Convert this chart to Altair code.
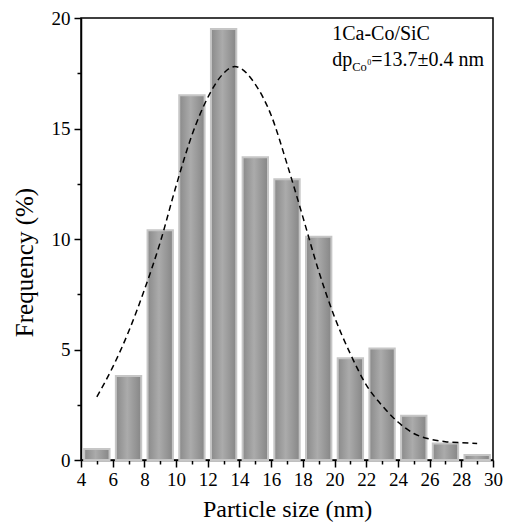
import altair as alt
import pandas as pd

# Histogram bins (nm) and frequencies (%)
bin_start = [4, 6, 8, 10, 12, 14, 16, 18, 20, 22, 24, 26, 28]
bin_end = [6, 8, 10, 12, 14, 16, 18, 20, 22, 24, 26, 28, 30]
frequency = [0.5, 3.8, 10.4, 16.5, 19.5, 13.7, 12.7, 10.1, 4.6, 5.05, 2.0, 0.75, 0.23]

# Fitted distribution curve
fit_x = [5, 6, 7, 8, 9, 10, 11, 12, 13, 13.7, 14, 15, 16, 17, 18, 19, 20, 21, 22, 23, 24, 25, 26, 27, 28, 29]
fit_y = [2.86, 4.2, 5.8, 7.7, 9.85, 12.4, 14.7, 16.4, 17.5, 17.8, 17.75, 17.0, 15.6, 13.4, 11.0,
         8.55, 6.47, 4.8, 3.4, 2.46, 1.72, 1.2, 0.95, 0.83, 0.78, 0.75]

# Sample label and mean size
label_sample = "1Ca-Co/SiC"
label_parts = ["dp", "Co", "0", "=13.7\u00b10.4 nm"]

FONT = "Liberation Serif"
GAP = 0.2

bars = pd.DataFrame({
    "x0": [s + GAP for s in bin_start],
    "x1": [e - GAP for e in bin_end],
    "f": frequency,
})
fit = pd.DataFrame({"x": fit_x, "y": fit_y})

x_scale = alt.Scale(domain=[4, 30], nice=False, zero=False)
y_scale = alt.Scale(domain=[0, 20], nice=False)

x_axis = alt.Axis(
    values=list(range(4, 31)),
    labelExpr="datum.value % 2 === 0 ? datum.label : ''",
    tickSize={"condition": {"test": "datum.value % 2 === 0", "value": 7}, "value": 4},
    title="Particle size (nm)",
    grid=False, labelOverlap=False, labelFlush=False,
    labelPadding=3, titlePadding=8,
)
y_axis = alt.Axis(
    values=[0, 2.5, 5, 7.5, 10, 12.5, 15, 17.5, 20],
    labelExpr="datum.value % 5 === 0 ? datum.label : ''",
    tickSize={"condition": {"test": "datum.value % 5 === 0", "value": 7}, "value": 4},
    title="Frequency (%)", titleY=244, titleFontSize=25,
    grid=False, labelOverlap=False, labelPadding=4, titlePadding=14,
)


def xq(field):
    return alt.X(field, type="quantitative", scale=x_scale, axis=x_axis)


def yq(field):
    return alt.Y(field, type="quantitative", scale=y_scale, axis=y_axis)


bar_fill = alt.LinearGradient(
    gradient="linear",
    stops=[
        alt.GradientStop(color="#8a8a8a", offset=0),
        alt.GradientStop(color="#ababab", offset=0.45),
        alt.GradientStop(color="#868686", offset=1),
    ],
    x1=0, x2=1, y1=0, y2=0,
)

hist = alt.Chart(bars).mark_rect(
    fill=bar_fill, stroke="#c6c6c6", strokeWidth=2
).encode(
    x=xq("x0"),
    x2="x1:Q",
    y=yq("f"),
    y2=alt.datum(0),
)

curve = alt.Chart(fit).mark_line(
    color="black", strokeWidth=1.5, strokeDash=[6, 4], interpolate="monotone"
).encode(x=xq("x"), y=yq("y"))

txt_x = 19.85
title1 = alt.Chart(pd.DataFrame({"x": [txt_x], "y": [19.0], "t": [label_sample]})).mark_text(
    font=FONT, fontSize=20, align="left", baseline="alphabetic", color="black"
).encode(x=xq("x"), y=yq("y"), text="t:N")

line2 = pd.DataFrame({"x": [txt_x], "y": [17.83]})
t_dp = alt.Chart(line2).mark_text(
    font=FONT, fontSize=20, align="left", baseline="alphabetic", color="black", text=label_parts[0]
).encode(x=xq("x"), y=yq("y"))
t_co = alt.Chart(line2).mark_text(
    font=FONT, fontSize=12.5, align="left", baseline="alphabetic", color="black",
    text=label_parts[1], dx=20, dy=5
).encode(x=xq("x"), y=yq("y"))
t_sup = alt.Chart(line2).mark_text(
    font=FONT, fontSize=8, align="left", baseline="alphabetic", color="black",
    text=label_parts[2], dx=35, dy=-1
).encode(x=xq("x"), y=yq("y"))
t_rest = alt.Chart(line2).mark_text(
    font=FONT, fontSize=20, align="left", baseline="alphabetic", color="black",
    text=label_parts[3], dx=39
).encode(x=xq("x"), y=yq("y"))

chart = alt.layer(hist, curve, title1, t_dp, t_co, t_sup, t_rest).properties(
    width=412, height=442,
    background="white",
    autosize=alt.AutoSizeParams(type="none"),
    padding={"left": 81, "top": 18, "right": 17, "bottom": 70},
).configure_view(
    stroke="black", strokeWidth=1.5
).configure_axis(
    domainColor="black", domainWidth=1.5, tickColor="black", tickWidth=1.5,
    labelFont=FONT, labelFontSize=19, labelColor="black",
    titleFont=FONT, titleFontSize=24, titleFontWeight="normal", titleColor="black",
)

chart.save("out.html", embed_options={"renderer": "svg", "actions": False})
